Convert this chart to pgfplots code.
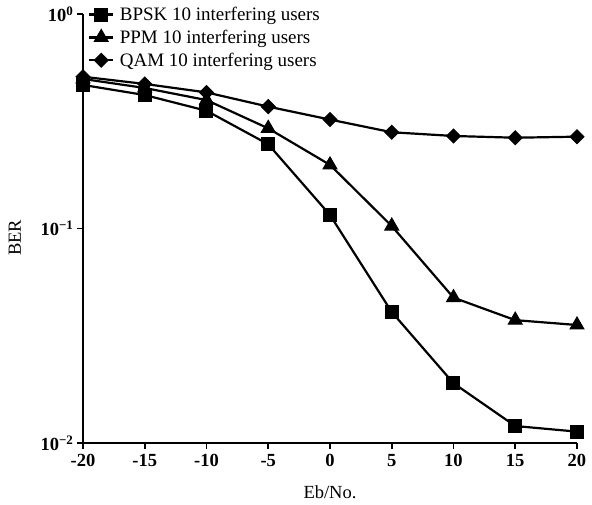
\documentclass[border=0pt]{standalone}
\usepackage{fontspec}
\setmainfont{Liberation Serif}
\usepackage{pgfplots}
\pgfplotsset{compat=1.18}
\begin{document}
\begin{tikzpicture}[font=\fontsize{18.5}{22}\selectfont]
\begin{axis}[
    scale only axis,
    width=494pt, height=429pt,
    xmode=normal, ymode=log,
    xmin=-20, xmax=20,
    ymin=0.01, ymax=1,
    axis x line=bottom, axis y line=left,
    axis line style={-, line width=2.2pt},
    tick align=outside,
    major tick length=6pt,
    every tick/.style={black, line width=1.8pt},
    xtick={-20,-15,-10,-5,0,5,10,15,20},
    xticklabels={-20,-15,-10,-5,0,5,10,15,20},
    ytick={0.01,0.1,1},
    yticklabels={10\textsuperscript{−2},10\textsuperscript{−1},10\textsuperscript{0}},
    minor ytick={},
    yminorticks=false,
    tick label style={font=\fontsize{18.5}{22}\selectfont\bfseries},
    xticklabel style={yshift=-2pt},
    xlabel={Eb/No.},
    ylabel={BER},
    xlabel style={at={(axis description cs:0.5,-0.114)}, anchor=center},
    ylabel style={at={(axis description cs:-0.138,0.478)}, anchor=center},
    legend style={draw=none, fill=none, at={(axis description cs:0.01,1.02)},
        anchor=north west, inner sep=0pt, row sep=5pt,
        font=\fontsize{19}{22}\selectfont,
        nodes={inner sep=1.5pt}},
    legend cell align=left,
    legend image code/.code={
        \draw[mark repeat=2,mark phase=2] plot coordinates {(0pt,0pt) (12pt,0pt) (24pt,0pt)};
        \path (28pt,0pt);
    },
    clip=false,
]
\addplot[black, line width=2.2pt, mark=square*, mark size=6.5pt, mark options={solid, line width=1pt}]
    coordinates {(-20,0.467)(-15,0.419)(-10,0.354)(-5,0.247)(0,0.1156)(5,0.0408)(10,0.019)(15,0.012)(20,0.0113)};
\addplot[black, line width=2.2pt, mark=triangle*, mark size=8pt, mark options={solid, line width=1pt}]
    coordinates {(-20,0.498)(-15,0.452)(-10,0.397)(-5,0.293)(0,0.198)(5,0.1027)(10,0.0476)(15,0.0374)(20,0.0355)};
\addplot[black, line width=2.2pt, mark=square*, mark size=4.9pt, mark options={solid, rotate=45, line width=1pt}]
    coordinates {(-20,0.51)(-15,0.472)(-10,0.431)(-5,0.370)(0,0.322)(5,0.281)(10,0.270)(15,0.265)(20,0.268)};
\legend{BPSK 10 interfering users, PPM 10 interfering users, QAM 10 interfering users}
\end{axis}
\pgfresetboundingbox
\path (current axis.south west) ++(-83pt,-61pt) rectangle ++(592pt,504pt);
\end{tikzpicture}
\end{document}
